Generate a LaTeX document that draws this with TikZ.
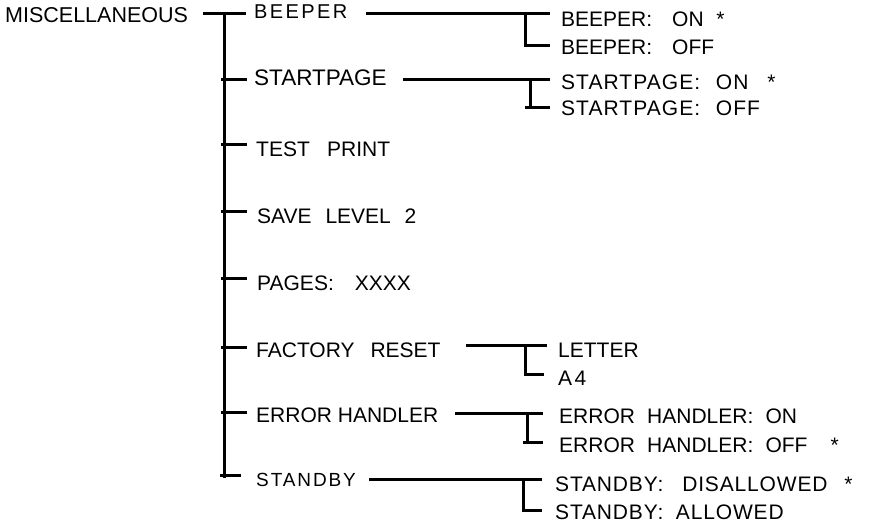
\documentclass[tikz,border=0pt]{standalone}
\usepackage{fontspec}
\setmainfont{Liberation Sans}
\newcommand\gp[1]{\hspace{#1em}}
\tikzset{
  lbl/.style={anchor=base west, inner sep=0pt, font=\fontsize{21}{25}\selectfont},
  ln/.style={line width=3pt, black},
}
\begin{document}
\begin{tikzpicture}[x=1pt,y=-1pt]
\useasboundingbox (0,0) rectangle (871,527);
% ---- texts, level 1
\node[lbl, font=\fontsize{21.5}{25}\selectfont] (misc) at (5,23) {MISCELLANEOUS};
% ---- level 2
\node[lbl, font=\fontsize{20}{24}\selectfont\addfontfeatures{LetterSpace=12}] (beeper) at (254,18.5) {BEEPER};
\node[lbl, font=\fontsize{22.5}{26}\selectfont] (startpage) at (254,85) {STARTPAGE};
\node[lbl] (testprint) at (256,157) {TEST\gp{0.82}PRINT};
\node[lbl] (savelevel) at (257,223) {SAVE\gp{0.66}LEVEL\gp{0.66}2};
\node[lbl] (pages) at (257,290) {PAGES:\gp{1.0}XXXX};
\node[lbl] (factory) at (256,357) {FACTORY\gp{0.76}RESET};
\node[lbl] (errh) at (256,422) {ERROR HANDLER};
\node[lbl, font=\fontsize{19}{23}\selectfont\addfontfeatures{LetterSpace=10}] (standby) at (256,486) {STANDBY};
% ---- level 3
\node[lbl] (bon) at (561,26.5) {BEEPER:\gp{0.95}ON\gp{0.6}*};
\node[lbl] (boff) at (561,55) {BEEPER:\gp{0.95}OFF};
\node[lbl, font=\fontsize{21}{25}\selectfont\addfontfeatures{LetterSpace=5}] (son) at (561,90) {STARTPAGE:\gp{0.75}ON\gp{0.9}*};
\node[lbl, font=\fontsize{21}{25}\selectfont\addfontfeatures{LetterSpace=5}] (soff) at (561,115) {STARTPAGE:\gp{0.75}OFF};
\node[lbl] (letter) at (558,357) {LETTER};
\node[lbl] (afour) at (558,385) {A\gp{0.12}4};
\node[lbl] (eon) at (559,423) {ERROR\gp{0.58}HANDLER:\gp{0.58}ON};
\node[lbl] (eoff) at (559,452) {ERROR\gp{0.58}HANDLER:\gp{0.58}OFF\gp{1.1}*};
\node[lbl, font=\fontsize{21}{25}\selectfont\addfontfeatures{LetterSpace=4}] (sdis) at (555,491) {STANDBY:\gp{0.9}DISALLOWED\gp{0.8}*};
\node[lbl, font=\fontsize{21}{25}\selectfont\addfontfeatures{LetterSpace=4}] (sall) at (555,519) {STANDBY:\gp{0.6}ALLOWED};
% ---- coordinates
\coordinate (m0) at (203,14);
\coordinate (m1) at (246,14);
\coordinate (t0) at (224,14);
\coordinate (t1) at (224,478);
\foreach \n/\y in {sp/80,tp/144,sl/211,pg/278,fr/347,eh/412}{
  \coordinate (\n a) at (221,\y);
  \coordinate (\n b) at (247,\y);
}
\coordinate (sba) at (220,475);
\coordinate (sbb) at (241,475);
% right connectors
\coordinate (be0) at (366,14);  \coordinate (be1) at (550,14);
\coordinate (be2) at (525,14);  \coordinate (be3) at (525,46);  \coordinate (be4) at (550,46);
\coordinate (st0) at (403,80);  \coordinate (st1) at (550,80);
\coordinate (st2) at (530,80);  \coordinate (st3) at (530,108);
\coordinate (st4) at (525,108); \coordinate (st5) at (550,108);
\coordinate (fa0) at (466,345); \coordinate (fa1) at (547,345);
\coordinate (fa2) at (525,345); \coordinate (fa3) at (525,374); \coordinate (fa4) at (544,374);
\coordinate (er0) at (455,413); \coordinate (er1) at (543,413);
\coordinate (er2) at (527,413); \coordinate (er3) at (527,442);
\coordinate (er4) at (523,442); \coordinate (er5) at (543,442);
\coordinate (sy0) at (369,479); \coordinate (sy1) at (542,479);
\coordinate (sy2) at (523,479); \coordinate (sy3) at (523,510); \coordinate (sy4) at (542,510);
% ---- lines
\draw[ln] (m0) -- (m1);
\draw[ln] (t0) -- (t1);
\foreach \n in {sp,tp,sl,pg,fr,eh}{ \draw[ln] (\n a) -- (\n b); }
\draw[ln] (sba) -- (sbb);
\draw[ln] (be0) -- (be1);
\draw[ln] (be2) -- (be3) -- (be4);
\draw[ln] (st0) -- (st1);
\draw[ln] (st2) -- (st3);
\draw[ln] (st4) -- (st5);
\draw[ln] (fa0) -- (fa1);
\draw[ln] (fa2) -- (fa3) -- (fa4);
\draw[ln] (er0) -- (er1);
\draw[ln] (er2) -- (er3);
\draw[ln] (er4) -- (er5);
\draw[ln] (sy0) -- (sy1);
\draw[ln] (sy2) -- (sy3) -- (sy4);
\end{tikzpicture}
\end{document}
